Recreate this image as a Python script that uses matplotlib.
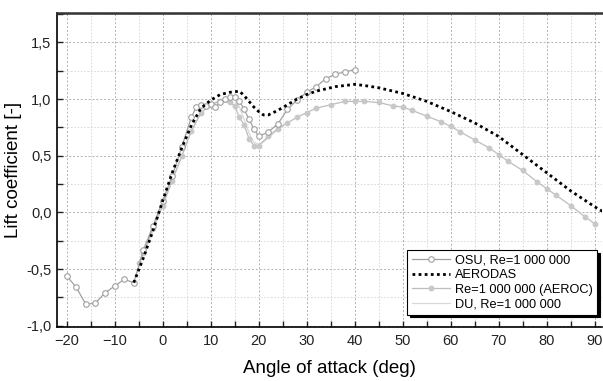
import numpy as np
import matplotlib
matplotlib.use("Agg")
import matplotlib.pyplot as plt
from matplotlib.ticker import MultipleLocator, FuncFormatter

plt.rcParams['font.family'] = ['Liberation Sans', 'DejaVu Sans']

# OSU, Re=1 000 000
osu_a = [-20, -18, -16, -14, -12, -10, -8, -6, -4, -2, 0, 2, 4, 6, 7, 8, 9, 10, 11, 12,
         13, 14, 15, 16, 17, 18, 19, 20, 22, 24, 26, 28, 30, 32, 34, 36, 38, 40]
osu_cl = [-0.56, -0.66, -0.81, -0.80, -0.71, -0.65, -0.59, -0.62, -0.33, -0.12, 0.10, 0.32,
          0.58, 0.84, 0.93, 0.95, 0.94, 0.96, 0.93, 0.97, 1.00, 1.02, 1.02, 0.98, 0.91, 0.82,
          0.74, 0.67, 0.71, 0.78, 0.91, 0.99, 1.06, 1.11, 1.18, 1.22, 1.24, 1.26]

# AERODAS
aer_a = [-6, -4, -2, 0, 2, 4, 6, 8, 10, 12, 14, 16, 17, 18, 19, 20, 21, 22, 24, 26, 28,
         30, 32, 34, 36, 38, 40, 42, 45, 50, 55, 60, 65, 70, 75, 80, 85, 90, 92]
aer_cl = [-0.62, -0.40, -0.16, 0.10, 0.35, 0.57, 0.77, 0.92, 0.99, 1.04, 1.06, 1.07, 1.03,
          0.98, 0.93, 0.89, 0.86, 0.86, 0.90, 0.95, 1.00, 1.04, 1.07, 1.09, 1.11, 1.12, 1.13,
          1.12, 1.10, 1.05, 0.98, 0.89, 0.79, 0.67, 0.51, 0.35, 0.19, 0.05, 0.0]

# Re=1 000 000 (AEROC)
aeroc_a = [-5, -4, -2, 0, 2, 4, 6, 8, 10, 12, 14, 15, 16, 17, 18, 19, 20, 22, 24, 26, 28,
           30, 32, 35, 38, 40, 42, 45, 48, 50, 52, 55, 58, 60, 62, 65, 68, 70, 72, 75, 78,
           80, 82, 85, 88, 90]
aeroc_cl = [-0.45, -0.36, -0.14, 0.06, 0.28, 0.50, 0.72, 0.88, 0.95, 0.98, 0.97, 0.94,
            0.84, 0.77, 0.65, 0.59, 0.59, 0.67, 0.74, 0.79, 0.84, 0.88, 0.92, 0.95, 0.98,
            0.98, 0.98, 0.97, 0.94, 0.93, 0.90, 0.85, 0.80, 0.76, 0.71, 0.64, 0.57, 0.51,
            0.45, 0.37, 0.27, 0.21, 0.15, 0.06, -0.04, -0.10]

# DU, Re=1 000 000
du_a = [-4, -2, 0, 2, 4, 6, 8, 10, 12, 14, 15, 16, 17, 18, 19, 20, 21, 22, 24, 25]
du_cl = [-0.38, -0.16, 0.06, 0.28, 0.50, 0.72, 0.88, 0.95, 0.99, 1.01, 1.00, 0.93, 0.82,
         0.70, 0.62, 0.60, 0.62, 0.66, 0.73, 0.76]

fig = plt.figure(figsize=(6.03, 3.81), dpi=100)
ax = fig.add_axes([0.0945, 0.142, 0.9045, 0.824])

ax.plot(osu_a, osu_cl, color='#a0a0a0', lw=0.9, marker='o', ms=4, mfc='white',
        mec='#a0a0a0', mew=0.8, label='OSU, Re=1 000 000', zorder=3)
ax.plot(aer_a, aer_cl, color='black', lw=2, linestyle=(0, (1, 1.2)),
        label='AERODAS', zorder=4)
ax.plot(aeroc_a, aeroc_cl, color='#bdbdbd', lw=0.9, marker='o', ms=3.2, mfc='#c8c8c8',
        mec='#c8c8c8', label='Re=1 000 000 (AEROC)', zorder=2)
ax.plot(du_a, du_cl, color='#d8d8d8', lw=0.9, label='DU, Re=1 000 000', zorder=1)

ax.set_xlim(-22, 91.6)
ax.set_ylim(-1.01, 1.76)

ax.xaxis.set_major_locator(MultipleLocator(10))
ax.xaxis.set_minor_locator(MultipleLocator(5))
ax.yaxis.set_major_locator(MultipleLocator(0.5))
ax.yaxis.set_minor_locator(MultipleLocator(0.25))
ax.yaxis.set_major_formatter(FuncFormatter(lambda v, p: f"{v:.1f}".replace('.', ',')))

ax.grid(which='major', color='#b0b0b0', linestyle=(0, (2, 2)), linewidth=0.7)
ax.grid(which='minor', color='#d4d4d4', linestyle=(0, (2, 2)), linewidth=0.6)
ax.set_axisbelow(True)

ax.tick_params(which='both', direction='in', length=4, width=1, labelsize=10.5,
               colors='#222222')
ax.tick_params(which='both', top=False, right=False)
ax.tick_params(axis='x', pad=5)
ax.tick_params(axis='y', pad=4)

for s in ['left', 'bottom']:
    ax.spines[s].set_linewidth(1.2)
ax.spines['top'].set_linewidth(1.8)
ax.spines['top'].set_color('#333333')
ax.spines['right'].set_visible(False)

ax.set_xlabel('Angle of attack (deg)', fontsize=13.5, labelpad=9)
ax.set_ylabel('Lift coefficient [-]', fontsize=13.5, labelpad=3)

leg = ax.legend(loc='upper left', bbox_to_anchor=(0.642, 0.245), fontsize=9.2,
                frameon=True, fancybox=False, edgecolor='black', framealpha=1,
                shadow={'color': 'black', 'alpha': 1}, labelspacing=0.2,
                handlelength=3.0, handletextpad=0.4, borderpad=0.35,
                borderaxespad=0)
leg.get_frame().set_linewidth(0.8)

fig.savefig('out.png', dpi=100)
